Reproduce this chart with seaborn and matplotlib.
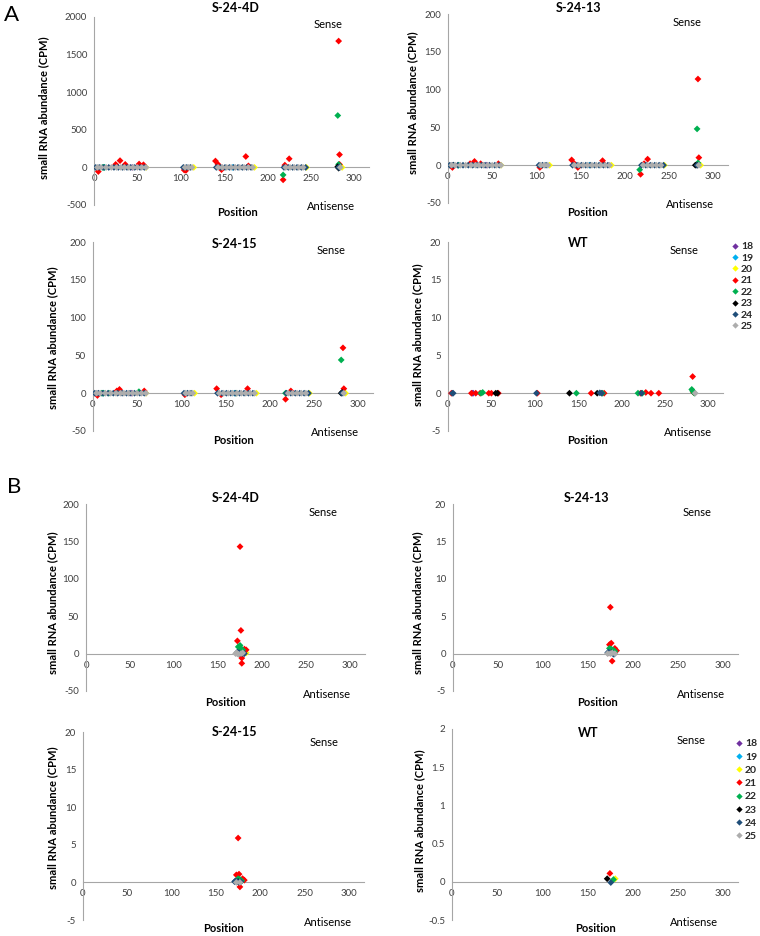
import matplotlib
matplotlib.use("Agg")
import matplotlib.pyplot as plt
import seaborn as sns
import pandas as pd
from matplotlib.lines import Line2D

# ---------------- data ----------------
SIZES = [18, 19, 20, 21, 22, 23, 24, 25]
SIZE_COLORS = ["#7030A0", "#00B0F0", "#FFFF00", "#FF0000", "#00B050",
               "#000000", "#1F4E79", "#ADADAD"]
X_TICKS = [0, 50, 100, 150, 200, 250, 300]

# background near-zero reads shared by the three transgenic panels of A
BG24_POS = [2, 6, 11, 17, 23, 28, 33, 38, 42, 47, 53, 58, 103, 107, 111,
            141, 146, 151, 156, 161, 166, 171, 176, 181,
            219, 224, 229, 234, 239, 244, 282]
BG25_POS = [4, 8, 14, 20, 26, 31, 35, 40, 45, 50, 55, 60, 105, 109, 113,
            143, 148, 153, 158, 163, 168, 173, 178, 183,
            221, 226, 231, 236, 241, 284]
BGX_POS = [60, 115, 185, 245, 286, 12, 44, 160]
BGX_SIZE = [20, 20, 20, 20, 20, 19, 18, 19]
BG_CPM = 0.0

A1_POS = [5, 25, 30, 36, 52, 57, 104, 106, 140, 143, 147, 175, 178, 218, 220, 225,
          282, 283, 283, 281, 218, 282, 10, 12, 282, 281, 283]
A1_SIZE = [21, 21, 21, 21, 21, 21, 21, 21, 21, 21, 21, 21, 21, 21, 21, 21,
           21, 21, 21, 22, 22, 22, 22, 22, 23, 23, 24]
A1_CPM = [-55, 40, 90, 40, 45, 35, -35, -40, 85, 40, -30, 145, 20, -165, 30, 115,
          1680, 170, 40, 690, -100, 40, 0, 0, -10, 10, 0]

A2_POS = [5, 25, 30, 37, 57, 104, 140, 143, 147, 175, 177, 218, 222, 226, 283, 284, 282,
          282, 217, 12, 283, 6, 280, 282]
A2_SIZE = [21, 21, 21, 21, 21, 21, 21, 21, 21, 21, 21, 21, 21, 21, 21, 21, 21,
           22, 22, 22, 22, 23, 23, 23]
A2_CPM = [-3, 2, 5, 2, 2, -3, 7, 2, -3, 6, 1, -12, 2, 8, 114, 10, 1,
          48, -6, 0, 3, 0, 0, 0]

A3_POS = [5, 27, 30, 58, 104, 140, 145, 175, 218, 224, 283, 284,
          281, 10, 12, 18, 52, 162, 218, 282, 281]
A3_SIZE = [21, 21, 21, 21, 21, 21, 21, 21, 21, 21, 21, 21,
           22, 22, 22, 22, 22, 22, 22, 23, 23]
A3_CPM = [-3, 3, 5, 3, -2, 6, -2, 6, -8, 3, 60, 6,
          44, 0, 0, 0, 2, 0, 0, 1, 0]

A4_POS = [4, 27, 32, 37, 47, 50, 58, 103, 165, 180, 222, 228, 234, 243, 282, 283,
          38, 40, 148, 178, 219, 224, 281, 282, 284,
          55, 57, 140, 172, 5, 6, 102, 175, 177, 223, 28, 29, 285]
A4_SIZE = [21, 21, 21, 21, 21, 21, 21, 21, 21, 21, 21, 21, 21, 21, 21, 21,
           22, 22, 22, 22, 22, 22, 22, 22, 22,
           23, 23, 23, 23, 24, 24, 24, 24, 24, 24, 18, 18, 25]
A4_CPM = [0, 0, 0, 0, 0, 0, 0, 0, 0, 0, 0, 0.1, 0, 0, 2.2, 0.1,
          0, 0.1, 0, 0, 0, 0, 0.5, 0.3, 0,
          0, 0, 0, 0, 0, 0, 0, 0.05, 0, 0, 0, 0, 0]

B1_POS = [175, 176, 172, 177, 177, 180, 182, 174, 173, 175, 176, 178,
          172, 174, 178, 180, 170, 171, 172, 173, 176, 178, 175, 182]
B1_SIZE = [21, 21, 21, 21, 21, 21, 21, 21, 22, 22, 22, 22,
           24, 24, 24, 24, 25, 25, 25, 25, 25, 25, 23, 20]
B1_CPM = [143, 31, 17, -6, -13, 6, 5, 3, 9, 11, 7, 5,
          2, 1, 0, 0, 0, 1, 0, -1, 0, 1, 0, 1]

B2_POS = [175, 174, 176, 177, 180, 182, 173, 174, 176, 178, 180,
          172, 173, 178, 179, 172, 175, 177, 180, 176]
B2_SIZE = [21, 21, 21, 21, 21, 21, 21, 22, 22, 22, 22,
           24, 24, 24, 24, 25, 25, 25, 25, 23]
B2_CPM = [6.2, 1.2, 1.4, -1.0, 0.7, 0.4, 0.1, 0.7, 0.6, 0.5, 0.3,
          0.1, 0.2, 0, -0.1, 0, 0, 0.1, 0, 0.1]

B3_POS = [175, 173, 176, 177, 182, 180, 175, 177, 179,
          171, 172, 174, 176, 178, 173, 177, 175]
B3_SIZE = [21, 21, 21, 21, 21, 21, 22, 22, 22,
           24, 24, 24, 24, 24, 25, 25, 23]
B3_CPM = [5.9, 1.0, 1.1, -0.6, 0.3, 0.5, 0.5, 0.4, 0.2,
          0.1, 0.2, 0.1, 0, 0.1, 0, 0, 0.1]

B4_POS = [175, 172, 179, 176, 181]
B4_SIZE = [21, 23, 22, 24, 20]
B4_CPM = [0.11, 0.04, 0.03, -0.01, 0.04]

# ---------------- style ----------------
sns.set_theme(style="white")
plt.rcParams["font.family"] = ["Lato", "DejaVu Sans"]
plt.rcParams["axes.unicode_minus"] = False

W, H = 760, 936
fig = plt.figure(figsize=(W / 100, H / 100), dpi=100)
palette = dict(zip(SIZES, SIZE_COLORS))
AX_COL = "#A6A6A6"
TXT_COL = "#404040"


def bg_frame():
    d1 = pd.DataFrame({"pos": BG24_POS, "size": 24, "cpm": BG_CPM})
    d2 = pd.DataFrame({"pos": BG25_POS, "size": 25, "cpm": BG_CPM})
    d3 = pd.DataFrame({"pos": BGX_POS, "size": BGX_SIZE, "cpm": BG_CPM})
    return pd.concat([d1, d2, d3], ignore_index=True)


def frame(pos, size, cpm, with_bg=False):
    d = pd.DataFrame({"pos": pos, "size": size, "cpm": cpm})
    if with_bg:
        d = pd.concat([bg_frame(), d], ignore_index=True)
    return d.sort_values("size", kind="stable").reset_index(drop=True)


def fx(x):
    return x / W


def fy(y):
    return 1 - y / H


panels = [
    dict(title="S-24-4D", df=frame(A1_POS, A1_SIZE, A1_CPM, True), ylim=(-500, 2000), step=500,
         rect=(94, 369, 17, 205), t=(236, 8), s=(328, 25), a=(331, 206), p=(237, 212), yl=(44, 108)),
    dict(title="S-24-13", df=frame(A2_POS, A2_SIZE, A2_CPM, True), ylim=(-50, 200), step=50,
         rect=(448, 728, 14, 203), t=(579, 8), s=(687, 23), a=(690, 204), p=(588, 213), yl=(413, 103)),
    dict(title="S-24-15", df=frame(A3_POS, A3_SIZE, A3_CPM, True), ylim=(-50, 200), step=50,
         rect=(93, 373, 242, 431), t=(235, 244), s=(331, 251), a=(335, 432), p=(233, 440), yl=(53, 338)),
    dict(title="WT", df=frame(A4_POS, A4_SIZE, A4_CPM), ylim=(-5, 20), step=5,
         rect=(448, 723, 242, 431), t=(578, 243), s=(684, 251), a=(688, 432), p=(587, 440), yl=(418, 335)),
    dict(title="S-24-4D", df=frame(B1_POS, B1_SIZE, B1_CPM), ylim=(-50, 200), step=50,
         rect=(86, 365, 504, 691), t=(236, 498), s=(323, 513), a=(327, 695), p=(226, 702), yl=(53, 603)),
    dict(title="S-24-13", df=frame(B2_POS, B2_SIZE, B2_CPM), ylim=(-5, 20), step=5,
         rect=(453, 738, 504, 691), t=(587, 498), s=(697, 513), a=(701, 695), p=(597, 702), yl=(418, 603)),
    dict(title="S-24-15", df=frame(B3_POS, B3_SIZE, B3_CPM), ylim=(-5, 20), step=5,
         rect=(83, 364, 732, 920), t=(235, 732), s=(324, 742), a=(328, 923), p=(224, 929), yl=(53, 818)),
    dict(title="WT", df=frame(B4_POS, B4_SIZE, B4_CPM), ylim=(-0.5, 2), step=0.5,
         rect=(452, 738, 729, 920), t=(588, 733), s=(691, 741), a=(694, 923), p=(596, 929), yl=(420, 821)),
]

for P in panels:
    x0, x1, y0, y1 = P["rect"]
    ax = fig.add_axes([fx(x0), fy(y1), (x1 - x0) / W, (y1 - y0) / H])
    sns.scatterplot(data=P["df"], x="pos", y="cpm", hue="size", palette=palette,
                    marker="D", s=12, linewidth=0, legend=False, ax=ax, zorder=3)
    ax.set_xlim(0, 317)
    lo, hi = P["ylim"]
    ax.set_ylim(lo, hi)
    st = P["step"]
    ticks = []
    v = lo
    while v <= hi + 1e-9:
        ticks.append(round(v, 3))
        v += st
    ax.set_yticks(ticks)
    ax.set_yticklabels([f"{t:g}" for t in ticks])
    ax.set_xticks(X_TICKS)
    ax.set_xticklabels([str(t) for t in X_TICKS])
    for sp in ["top", "right"]:
        ax.spines[sp].set_visible(False)
    ax.spines["bottom"].set_position(("data", 0))
    for sp in ["left", "bottom"]:
        ax.spines[sp].set_color(AX_COL)
        ax.spines[sp].set_linewidth(0.8)
    ax.tick_params(axis="both", direction="out", length=3, width=0.8, color=AX_COL,
                   labelsize=7, labelcolor=TXT_COL, pad=2)
    ax.set_xlabel("")
    ax.set_ylabel("")
    ax.patch.set_alpha(0)

    fig.text(fx(P["t"][0]), fy(P["t"][1]), P["title"], ha="center", va="center",
             fontsize=9, fontweight="bold", color="black")
    fig.text(fx(P["s"][0]), fy(P["s"][1]), "Sense", ha="center", va="center",
             fontsize=8, color="black")
    fig.text(fx(P["a"][0]), fy(P["a"][1]), "Antisense", ha="center", va="center",
             fontsize=8, color="black")
    fig.text(fx(P["p"][0]), fy(P["p"][1]), "Position", ha="center", va="center",
             fontsize=8, fontweight="bold", color="black")
    fig.text(fx(P["yl"][0]), fy(P["yl"][1]), "small RNA abundance (CPM)", ha="center",
             va="center", rotation=90, fontsize=8, fontweight="bold", color="black")

# panel letters
fig.text(fx(12), fy(15), "A", ha="center", va="center", fontsize=16, color="black")
fig.text(fx(14), fy(487), "B", ha="center", va="center", fontsize=16, color="black")

# legends
handles = [Line2D([], [], marker="D", linestyle="", markersize=3.2, markerfacecolor=c,
                  markeredgewidth=0) for c in SIZE_COLORS]
labels = [str(s) for s in SIZES]
for (lx, ly, sp) in [(731, 242, 0.2), (735, 739, 0.38)]:
    fig.legend(handles, labels, loc="upper left", bbox_to_anchor=(fx(lx), fy(ly)),
               bbox_transform=fig.transFigure, frameon=False, handlelength=0.7,
               handletextpad=0.25, borderpad=0, borderaxespad=0, labelspacing=sp,
               prop={"weight": "bold", "size": 7.5})

fig.savefig("out.png", dpi=100)
